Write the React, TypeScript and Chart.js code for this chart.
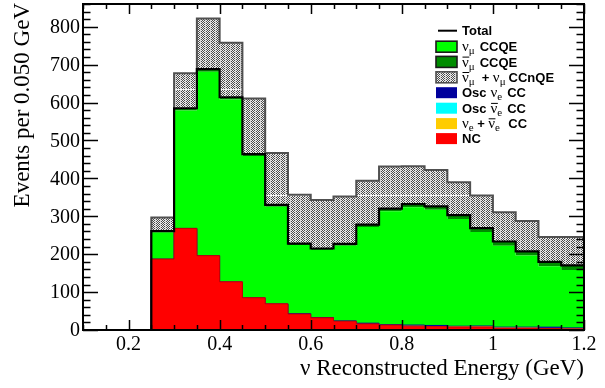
import React, { useEffect, useRef } from 'react';
import { Chart, registerables } from 'chart.js';

Chart.register(...registerables);

// Histogram bin edges (GeV), 0.050 GeV wide
const BIN_EDGES = [0.1, 0.15, 0.2, 0.25, 0.3, 0.35, 0.4, 0.45, 0.5, 0.55, 0.6, 0.65, 0.7, 0.75, 0.8, 0.85, 0.9, 0.95, 1.0, 1.05, 1.1, 1.15, 1.2];

// Events per bin, one entry per bin (stacked bottom to top in this order)
const NC = [0, 0, 0, 187, 268, 196, 127, 85, 69, 42, 32, 23, 16, 13, 10, 9, 8, 8, 5, 5, 4, 3];
const NUE_CC = [0, 0, 0, 0, 0, 0, 0, 0, 0, 0, 0, 0, 0, 0, 1, 1, 1, 1, 1, 1, 1, 1];
const OSC_NUEBAR_CC = [0, 0, 0, 0, 0, 0, 0, 0, 0, 0, 0, 0, 0, 0, 0, 0, 0, 0.5, 0.5, 0.5, 0.5, 0.5];
const OSC_NUE_CC = [0, 0, 0, 0, 0, 0, 0, 0, 0, 1, 1, 1, 2, 1, 2, 2, 1, 1, 1, 1, 2, 1];
const NUMU_CCQE = [0, 0, 0, 71, 311, 485, 481, 374, 256, 181, 178, 198, 254, 299, 311, 305, 283, 248, 215, 189, 161, 153];
const NUMUBAR_CCQE = [0, 0, 0, 3, 6, 7, 6, 5, 5, 4, 4, 5, 6, 7, 8, 9, 10, 10, 11, 11, 11, 12];
const CCNQE = [0, 0, 0, 36, 92, 134, 144, 147, 137, 129, 128, 125, 116, 111, 100, 96, 87, 86, 77, 80, 66, 75];

// Axis labels
const Y_TICK_LABELS = [0, 100, 200, 300, 400, 500, 600, 700, 800];
const X_TICK_LABELS = [0.2, 0.4, 0.6, 0.8, 1, 1.2];
const Y_MAX = 860;
const X_MIN = 0.1;
const X_MAX = 1.2;

const SERIF = '"Liberation Serif", "DejaVu Serif", serif';
const SANS = '"Liberation Sans", Arial, sans-serif';

// Step-histogram points: one point at each bin's low edge, plus the closing edge
function steps(values: number[]) {
  const pts = values.map((v, i) => ({ x: BIN_EDGES[i], y: v }));
  pts.push({ x: BIN_EDGES[values.length], y: values[values.length - 1] });
  return pts;
}

function makeHatch(ctx: CanvasRenderingContext2D): CanvasPattern | string {
  const c = document.createElement('canvas');
  const w = 5;
  const h = 106;
  c.width = w;
  c.height = h;
  const g = c.getContext('2d');
  if (!g) return '#999';
  for (let y = 0; y < h; y++) {
    for (let x = 0; x < w; x++) {
      let col: string;
      if (x === 0) col = '#d6d6d6';
      else col = (x + y) % 2 === 0 ? '#4a4a4a' : '#f0f0f0';
      if (y === 89) col = x === 0 ? '#ffffff' : '#f4f4f4';
      g.fillStyle = col;
      g.fillRect(x, y, 1, 1);
    }
  }
  return ctx.createPattern(c, 'repeat') || '#999';
}

type Seg = { t: string; f: string; dy?: number; bar?: boolean; gap?: number };

const BOLD = `bold 13px ${SANS}`;
const NU = `15px ${SERIF}`;
const SUB = `11px ${SERIF}`;

function drawRich(ctx: CanvasRenderingContext2D, x: number, y: number, segs: Seg[]) {
  let cx = x;
  for (const s of segs) {
    cx += s.gap || 0;
    ctx.font = s.f;
    ctx.fillText(s.t, cx, y + (s.dy || 0));
    const w = ctx.measureText(s.t).width;
    if (s.bar) ctx.fillRect(cx + 0.5, y - 10, w, 1);
    cx += w;
  }
}

export default function App() {
  const ref = useRef<HTMLCanvasElement>(null);

  useEffect(() => {
    const canvas = ref.current;
    if (!canvas) return;
    const ctx = canvas.getContext('2d');
    if (!ctx) return;
    const hatch = makeHatch(ctx);

    const total = NC.map((v, i) => v + NUE_CC[i] + OSC_NUEBAR_CC[i] + OSC_NUE_CC[i] + NUMU_CCQE[i] + NUMUBAR_CCQE[i]);

    const decor = {
      id: 'decor',
      afterDraw(chart: any) {
        const c: CanvasRenderingContext2D = chart.ctx;
        const a = chart.chartArea;
        const xs = chart.scales.x;
        const ys = chart.scales.y;
        c.save();
        c.strokeStyle = '#000';
        c.fillStyle = '#000';

        // tick marks on all four sides
        c.lineWidth = 1.5;
        c.beginPath();
        for (let k = 0; k * 20 <= Y_MAX; k++) {
          const v = k * 20;
          const py = Math.round(ys.getPixelForValue(v)) + 0.5;
          const len = v % 100 === 0 ? 15 : 7.5;
          c.moveTo(a.left, py);
          c.lineTo(a.left + len, py);
          c.moveTo(a.right, py);
          c.lineTo(a.right - len, py);
        }
        for (let k = 2; k <= 24; k++) {
          const v = k * 0.05;
          const px = Math.round(xs.getPixelForValue(v)) + 0.5;
          const len = k % 4 === 0 ? 10 : 5;
          c.moveTo(px, a.bottom);
          c.lineTo(px, a.bottom - len);
          c.moveTo(px, a.top);
          c.lineTo(px, a.top + len);
        }
        c.stroke();

        // frame
        c.lineWidth = 2;
        c.strokeRect(a.left, a.top, a.right - a.left, a.bottom - a.top);

        // tick labels
        c.font = `20px ${SERIF}`;
        c.textAlign = 'right';
        c.textBaseline = 'middle';
        for (const v of Y_TICK_LABELS) {
          c.fillText(String(v), a.left - 3, ys.getPixelForValue(v) + 1);
        }
        c.textAlign = 'center';
        c.textBaseline = 'alphabetic';
        for (const v of X_TICK_LABELS) {
          c.fillText(String(v), xs.getPixelForValue(v), a.bottom + 20);
        }

        // axis titles
        c.font = `23px ${SERIF}`;
        c.textAlign = 'right';
        c.fillText('\u03bd Reconstructed Energy (GeV)', a.right, a.bottom + 45);
        c.save();
        c.translate(29, a.top - 1);
        c.rotate(-Math.PI / 2);
        c.textAlign = 'right';
        c.fillText('Events per 0.050 GeV', 0, 0);
        c.restore();

        // legend
        const lx = 436;
        const tx = 462;
        const rows = [30.7, 46.7, 61.9, 77.3, 92.7, 108.2, 123.6, 138.6];
        c.textAlign = 'left';
        c.textBaseline = 'alphabetic';

        // Total
        c.lineWidth = 2;
        c.strokeStyle = '#000';
        c.beginPath();
        c.moveTo(438, rows[0]);
        c.lineTo(457, rows[0]);
        c.stroke();

        const box = (y: number, fill: any, stroke?: string) => {
          c.fillStyle = fill;
          c.fillRect(lx, y - 5.5, 21, 11);
          if (stroke) {
            c.lineWidth = 1.6;
            c.strokeStyle = stroke;
            c.strokeRect(lx, y - 5.5, 21, 11);
          }
        };
        box(rows[1], '#00ff00', '#1a1a1a');
        box(rows[2], '#008c00', '#1a1a1a');
        box(rows[3], hatch, '#505050');
        box(rows[4], '#00009c');
        box(rows[5], '#00ffff');
        box(rows[6], '#ffcc00');
        box(rows[7], '#ff0000');

        c.fillStyle = '#000';
        const b = 4.7;
        drawRich(c, tx, rows[0] + b, [{ t: 'Total', f: BOLD }]);
        drawRich(c, tx, rows[1] + b, [
          { t: '\u03bd', f: NU },
          { t: '\u03bc', f: SUB, dy: 3 },
          { t: 'CCQE', f: BOLD, gap: 5 },
        ]);
        drawRich(c, tx, rows[2] + b, [
          { t: '\u03bd', f: NU, bar: true },
          { t: '\u03bc', f: SUB, dy: 3 },
          { t: 'CCQE', f: BOLD, gap: 5 },
        ]);
        drawRich(c, tx, rows[3] + b, [
          { t: '\u03bd', f: NU, bar: true },
          { t: '\u03bc', f: SUB, dy: 3 },
          { t: '+', f: BOLD, gap: 7 },
          { t: '\u03bd', f: NU, gap: 3.6 },
          { t: '\u03bc', f: SUB, dy: 3 },
          { t: 'CCnQE', f: BOLD, gap: 3 },
        ]);
        drawRich(c, tx, rows[4] + b, [
          { t: 'Osc', f: BOLD },
          { t: '\u03bd', f: NU, gap: 4 },
          { t: 'e', f: SUB, dy: 3 },
          { t: 'CC', f: BOLD, gap: 5 },
        ]);
        drawRich(c, tx, rows[5] + b, [
          { t: 'Osc', f: BOLD },
          { t: '\u03bd', f: NU, gap: 4, bar: true },
          { t: 'e', f: SUB, dy: 3 },
          { t: 'CC', f: BOLD, gap: 5 },
        ]);
        drawRich(c, tx, rows[6] + b, [
          { t: '\u03bd', f: NU },
          { t: 'e', f: SUB, dy: 3 },
          { t: '+', f: BOLD, gap: 3.5 },
          { t: '\u03bd', f: NU, gap: 3.4, bar: true },
          { t: 'e', f: SUB, dy: 3 },
          { t: 'CC', f: BOLD, gap: 8.5 },
        ]);
        drawRich(c, tx, rows[7] + b, [{ t: 'NC', f: BOLD }]);
        c.restore();
      },
    };

    const common = {
      stepped: 'before' as const,
      pointRadius: 0,
      tension: 0,
      borderJoinStyle: 'miter' as const,
      order: 1,
    };

    const chart = new Chart(canvas, {
      type: 'line',
      data: {
        datasets: [
          { ...common, label: 'NC', data: steps(NC), backgroundColor: '#ff0000', borderColor: '#c80000', borderWidth: 1, fill: 'origin' },
          { ...common, label: 'nue CC', data: steps(NUE_CC), backgroundColor: '#ffcc00', borderWidth: 0, fill: '-1' },
          { ...common, label: 'Osc nuebar CC', data: steps(OSC_NUEBAR_CC), backgroundColor: '#00ffff', borderWidth: 0, fill: '-1' },
          { ...common, label: 'Osc nue CC', data: steps(OSC_NUE_CC), backgroundColor: '#00009c', borderColor: '#00009c', borderWidth: 1, fill: '-1' },
          { ...common, label: 'numu CCQE', data: steps(NUMU_CCQE), backgroundColor: '#00ff00', borderWidth: 0, fill: '-1' },
          { ...common, label: 'numubar CCQE', data: steps(NUMUBAR_CCQE), backgroundColor: '#008c00', borderWidth: 0, fill: '-1' },
          { ...common, label: 'CCnQE', data: steps(CCNQE), backgroundColor: hatch as any, borderColor: '#505050', borderWidth: 2, fill: '-1' },
          { ...common, label: 'Total', data: steps(total), borderColor: '#000000', borderWidth: 2.2, fill: false, stack: 'total', order: 0 },
        ] as any,
      },
      options: {
        responsive: false,
        animation: false,
        devicePixelRatio: 1,
        layout: { padding: { top: 4, right: 21, left: 0, bottom: 0 } },
        plugins: { legend: { display: false }, tooltip: { enabled: false } },
        scales: {
          x: {
            type: 'linear',
            min: X_MIN,
            max: X_MAX,
            grid: { display: false, drawTicks: false },
            border: { display: false },
            ticks: { display: false },
            afterFit: (s: any) => {
              s.height = 58;
            },
          },
          y: {
            stacked: true,
            min: 0,
            max: Y_MAX,
            grid: { display: false, drawTicks: false },
            border: { display: false },
            ticks: { display: false },
            afterFit: (s: any) => {
              s.width = 83;
            },
          },
        },
      } as any,
      plugins: [decor],
    });

    return () => chart.destroy();
  }, []);

  return (
    <div style={{ position: 'fixed', left: 0, top: 0, width: 605, height: 388, background: '#fff' }}>
      <canvas ref={ref} width={605} height={388} style={{ width: 605, height: 388, display: 'block' }} />
    </div>
  );
}
